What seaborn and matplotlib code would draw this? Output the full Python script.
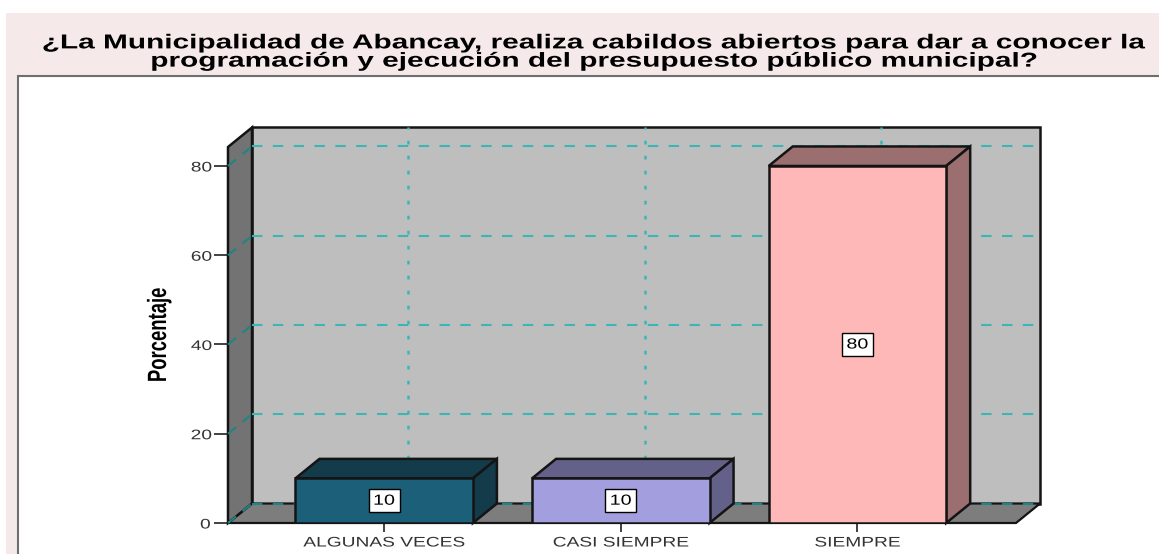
import matplotlib
matplotlib.use('Agg')
import numpy as np
import pandas as pd
import matplotlib.pyplot as plt
import matplotlib.patheffects as pe
from matplotlib.patches import Polygon, Rectangle
from matplotlib.transforms import Affine2D
import seaborn as sns

categorias = ['ALGUNAS VECES', 'CASI SIEMPRE', 'SIEMPRE']
porcentajes = [10, 10, 80]
ticks_y = [0, 20, 40, 60, 80]
titulo = ('¿La Municipalidad de Abancay, realiza cabildos abiertos para dar a conocer la\n'
          'programación y ejecución del presupuesto público municipal?')
color_frente = ['#1c5f78', '#a39fdf', '#ffb8b8']
color_lado = ['#133b49', '#636189', '#9b6f6f']

GRIS_FONDO = '#bebebe'
GRIS_PISO = '#7d7d7d'
GRIS_PARED = '#737373'
TEAL = '#3db5b5'
TEAL_OSCURO = '#1c8585'
ROSA = '#f5e9e9'


# El original esta estirado a lo ancho, asi que estiramos el texto desde su centro
class Estirar(pe.AbstractPathEffect):
    def __init__(self, sx=1.0, sy=1.0):
        super().__init__()
        self.sx = sx
        self.sy = sy

    def draw_path(self, renderer, gc, tpath, affine, rgbFace=None):
        caja = tpath.transformed(affine).get_extents()
        cx, cy = (caja.x0 + caja.x1) / 2, (caja.y0 + caja.y1) / 2
        nuevo = affine + Affine2D().translate(-cx, -cy).scale(self.sx, self.sy).translate(cx, cy)
        renderer.draw_path(gc, tpath, nuevo, rgbFace)


sns.set_theme(style='white')
plt.rcParams['font.family'] = ['Liberation Sans', 'DejaVu Sans']

W, H = 1159, 554
fig = plt.figure(figsize=(W / 100, H / 100), dpi=100, facecolor='white')


def caja_px(x0, y0, x1, y1, **kw):
    fig.patches.append(Rectangle((x0 / W, 1 - y1 / H), (x1 - x0) / W, (y1 - y0) / H,
                                 transform=fig.transFigure, figure=fig, zorder=-2, **kw))


caja_px(6, 13, W, H, facecolor=ROSA, edgecolor='none')
caja_px(18, 76, W + 5, H + 5, facecolor='white', edgecolor='#6e6e6e', linewidth=1.5)

fig.text(593.5 / W, 1 - 52 / H, titulo, ha='center', va='center', fontsize=14.5, fontweight='bold',
         color='black', linespacing=0.95, path_effects=[Estirar(sx=1.48)])

# Plano frontal del grafico; la profundidad se dibuja fuera de el
ax = fig.add_axes([228 / W, 1 - 523 / H, (1016 - 228) / W, (523 - 147) / H])
ax.patch.set_visible(False)

df = pd.DataFrame({'categoria': categorias, 'porcentaje': porcentajes})
sns.barplot(data=df, x='categoria', y='porcentaje', hue='categoria', palette=color_frente,
            legend=False, width=0.75, saturation=1, edgecolor='#141414', linewidth=1.8,
            zorder=4, ax=ax)
ax.set_xlim(-0.66, 2.67)
ax.set_ylim(0, 84.25)

x0, x1 = ax.get_xlim()
y0, y1 = ax.get_ylim()
dx = 24 / 236.7
dy = 19.5 * (y1 - y0) / 376


def poligono(puntos, color, z, ec='#141414', lw=1.8):
    ax.add_patch(Polygon(puntos, closed=True, facecolor=color, edgecolor=ec, linewidth=lw,
                         zorder=z, clip_on=False, joinstyle='miter'))


# Paredes y piso
poligono([(x0 + dx, y0 + dy), (x1 + dx, y0 + dy), (x1 + dx, y1 + dy), (x0 + dx, y1 + dy)], GRIS_FONDO, 1)
poligono([(x0, y0), (x0 + dx, y0 + dy), (x0 + dx, y1 + dy), (x0, y1)], GRIS_PARED, 1.2)
poligono([(x0, y0), (x0 + dx, y0 + dy), (x1 + dx, y0 + dy), (x1, y0)], GRIS_PISO, 1.1, lw=1.6)

# Rejilla sobre la pared del fondo y la pared izquierda
for t in ticks_y:
    color = TEAL_OSCURO if t == 0 else TEAL
    ax.plot([x0 + dx, x1 + dx], [t + dy, t + dy], color=color, lw=1.5, ls=(0, (5, 5)), zorder=2, clip_on=False)
    ax.plot([x0, x0 + dx], [t, t + dy], color=TEAL_OSCURO, lw=1.5, ls=(0, (5, 4)), zorder=2, clip_on=False)
for i in range(len(categorias)):
    ax.plot([i + dx, i + dx], [y0 + dy, y1 + dy], color=TEAL, lw=1.8, ls=(0, (1.5, 4.5)), zorder=2, clip_on=False)

# Caras superior y lateral de cada barra
for barra, lado in zip(ax.patches[:len(categorias)], color_lado):
    a, b = barra.get_x(), barra.get_x() + barra.get_width()
    v = barra.get_height()
    poligono([(a, v), (a + dx, v + dy), (b + dx, v + dy), (b, v)], lado, 3)
    poligono([(b, 0), (b + dx, dy), (b + dx, v + dy), (b, v)], lado, 3)

for contenedor in ax.containers:
    ax.bar_label(contenedor, label_type='center', fontsize=10.5, color='black',
                 bbox=dict(boxstyle='square,pad=0.51', mutation_aspect=0.63, facecolor='white',
                           edgecolor='black', linewidth=1),
                 path_effects=[Estirar(sx=1.35)], zorder=6)

for s in ax.spines.values():
    s.set_visible(False)
ax.set_yticks(ticks_y)
ax.set_xlabel('')
ax.set_ylabel('')
ax.tick_params(axis='y', left=True, length=10, width=1.3, color='#333333', pad=3.5, labelsize=10, labelcolor='#333333')
ax.tick_params(axis='x', bottom=True, length=6.5, width=1.3, color='#333333', pad=2.5, labelsize=10, labelcolor='#333333')
for lab in ax.get_xticklabels():
    lab.set_path_effects([Estirar(sx=1.38)])
for lab in ax.get_yticklabels():
    lab.set_path_effects([Estirar(sx=1.38)])

fig.text(159 / W, 1 - 335 / H, 'Porcentaje', rotation=90, ha='center', va='center', fontsize=19,
         fontweight='bold', color='black', path_effects=[Estirar(sy=0.7)])

fig.savefig('out.png', dpi=100, facecolor='white')
